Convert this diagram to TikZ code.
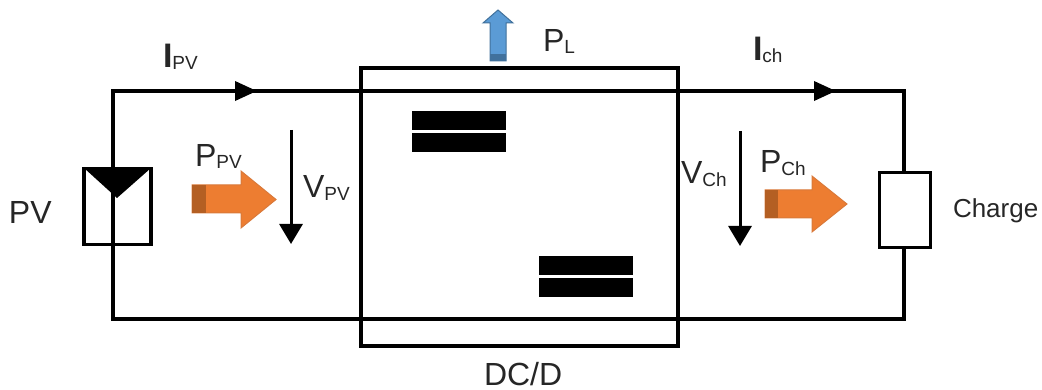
\documentclass[tikz,border=0pt]{standalone}
\usepackage{fontspec}
\setmainfont{Liberation Sans}
\usetikzlibrary{arrows.meta}
\definecolor{orangefill}{HTML}{ED7D31}
\definecolor{orangeedge}{HTML}{D9793A}
\definecolor{orangedark}{HTML}{B45F23}
\definecolor{bluefill}{HTML}{5B9BD5}
\definecolor{blueedge}{HTML}{41719C}
\tikzset{
  wire/.style={line width=3.6pt,line join=miter},
  boxed/.style={draw=black,line width=3.8pt,fill=none,inner sep=0pt,outer sep=0pt},
  bar/.style={fill=black,draw=none,inner sep=0pt,outer sep=0pt,minimum width=94pt,minimum height=19pt},
  flow/.style={line width=3.6pt,-{Triangle[length=22pt,width=19pt]}},
  volt/.style={line width=3pt,-{Triangle[length=20pt,width=23pt]}},
  lbl/.style={anchor=base west,inner sep=0pt,outer sep=0pt,text=black!85},
  orange arrow/.style={draw=orangeedge,line width=1pt,fill=orangefill},
  orange tail/.style={fill=orangedark,draw=none},
  blue arrow/.style={draw=blueedge,line width=1pt,fill=bluefill},
  blue tail/.style={fill=blueedge,draw=none}
}
\newcommand{\bigtxt}[1]{\fontsize{32}{36}\selectfont #1}
\newcommand{\smltxt}[2][-2.5pt]{\raisebox{#1}{\fontsize{19}{24}\selectfont #2}}
\begin{document}
\begin{tikzpicture}[x=1pt,y=-1pt]
\useasboundingbox (0,0) rectangle (1042,390);
% corners of the circuit
\coordinate (tl) at (113,91);
\coordinate (tr) at (904,91);
\coordinate (bl) at (113,319);
\coordinate (br) at (904,319);
\coordinate (ipvEnd) at (257,91);
\coordinate (ichStart) at (700,91);
\coordinate (ichEnd) at (836,91);
\coordinate (vpvS) at (291,130);
\coordinate (vpvE) at (291,244);
\coordinate (vchS) at (740,131);
\coordinate (vchE) at (740,246);
% wires
\node[boxed,minimum width=67pt,minimum height=76pt] (pv) at (117.5,206.5) {};
\node[boxed,minimum width=51pt,minimum height=75pt] (load) at (905,210) {};
\draw[wire] (pv.north -| tl) -- (tl) -- (tr) -- (load.north -| tr);
\draw[wire] (load.south -| br) -- (br) -- (bl) -- (pv.north -| bl);
\draw[flow] (tl) -- (ipvEnd);
\draw[flow] (ichStart) -- (ichEnd);
% converter
\node[boxed,minimum width=317pt,minimum height=278pt] (dc) at (519.5,207) {};
\node[bar] (b1) at (459,120.5) {};
\node[bar] (b2) at (459,142.5) {};
\node[bar] (b3) at (585.5,265.5) {};
\node[bar] (b4) at (585.5,287.5) {};
% PV symbol
\fill[black] (84,168) -- (151,168) -- (117,198) -- cycle;
% voltage arrows
\draw[volt] (vpvS) -- (vpvE);
\draw[volt] (vchS) -- (vchE);
% power arrows
\draw[orange arrow] (192,185) -- (241,185) -- (241,171) -- (276,199.5) -- (241,228) -- (241,213) -- (192,213) -- cycle;
\fill[orange tail] (192,185) rectangle (206,213);
\draw[orange arrow] (765,190) -- (812,190) -- (812,176) -- (847,204) -- (812,232) -- (812,218) -- (765,218) -- cycle;
\fill[orange tail] (765,190) rectangle (778,218);
\draw[blue arrow] (490,61) -- (490,23) -- (483,23) -- (498,10) -- (513,23) -- (506,23) -- (506,61) -- cycle;
\fill[blue tail] (490,54) rectangle (506,61);
% labels
\node[lbl] (tPV) at (9,224) {\bigtxt{PV}};
\node[lbl] (tIpv) at (163,68) {\fontsize{34}{36}\selectfont\bfseries I\smltxt[-2pt]{\mdseries PV}};
\node[lbl] (tPpv) at (195,167) {\bigtxt{P}\smltxt[-2pt]{PV}};
\node[lbl] (tVpv) at (303,198) {\bigtxt{V}\smltxt{PV}};
\node[lbl] (tPL) at (543,52) {\bigtxt{P}\smltxt[-2pt]{L}};
\node[lbl] (tIch) at (753,61) {\fontsize{34}{36}\selectfont\bfseries I\smltxt[-2pt]{\mdseries ch}};
\node[lbl] (tVch) at (681,184) {\bigtxt{V}\smltxt{Ch}};
\node[lbl] (tPch) at (760,173) {\bigtxt{P}\smltxt{Ch}};
\node[lbl] (tCharge) at (953,218) {\fontsize{26}{30}\selectfont Charge};
\node[lbl] (tDC) at (484,385) {\fontsize{32}{36}\selectfont DC/D};
\end{tikzpicture}
\end{document}
